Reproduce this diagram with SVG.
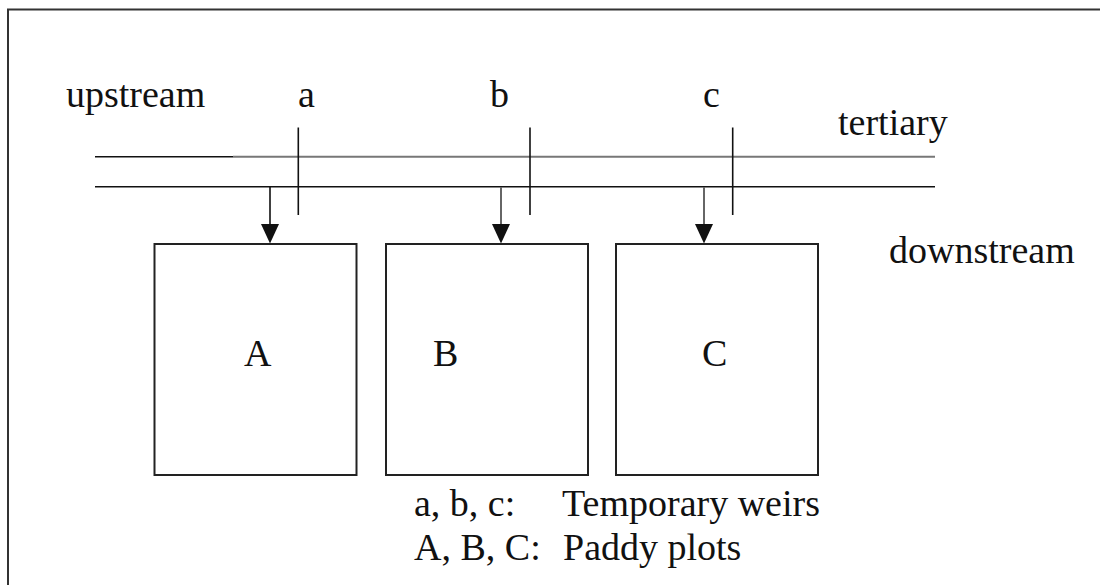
<svg xmlns="http://www.w3.org/2000/svg" width="1100" height="585" viewBox="0 0 1100 585">
<defs>
<style>
text{font-family:"Liberation Serif","Times New Roman",serif;font-size:38px;fill:#111}
.plot{fill:#fff;stroke:#222;stroke-width:2}
.ln{stroke:#111;stroke-width:1.6;fill:none}
.gl{stroke:#777;stroke-width:2;fill:none}
.head{fill:#111}
</style>
</defs>
<rect width="1100" height="585" fill="#fff"/>
<rect x="8" y="9.5" width="1200" height="700" fill="none" stroke="#333" stroke-width="2"/>
<g id="channel">
<line class="ln" x1="95" y1="156.7" x2="233" y2="156.7"/>
<line class="gl" x1="233" y1="156.7" x2="935" y2="156.7"/>
<line class="ln" x1="95" y1="186.7" x2="935" y2="186.7"/>
</g>
<g id="weirs">
<line class="ln" x1="298.3" y1="127.5" x2="298.3" y2="215"/>
<line class="ln" x1="530" y1="127.5" x2="530" y2="215"/>
<line class="ln" x1="732.7" y1="127.5" x2="732.7" y2="215"/>
</g>
<g id="connectors">
<path d="M270,187 V224" stroke="#111" stroke-width="1.6"/>
<path class="head" d="M261,224 H279 L270,243.5 Z"/>
<path d="M501,187 V224" stroke="#666" stroke-width="2"/>
<path class="head" d="M492,224 H510 L501,243.5 Z"/>
<path d="M704,187 V224" stroke="#666" stroke-width="2"/>
<path class="head" d="M695,224 H713 L704,243.5 Z"/>
</g>
<g id="plotA">
<rect class="plot" x="154.5" y="244" width="202" height="231"/>
<text x="244" y="366">A</text>
</g>
<g id="plotB">
<rect class="plot" x="386" y="244" width="202" height="231"/>
<text x="433" y="366">B</text>
</g>
<g id="plotC">
<rect class="plot" x="616" y="244" width="202" height="231"/>
<text x="702" y="366">C</text>
</g>
<g id="labels">
<text x="66" y="107">upstream</text>
<text x="298" y="107">a</text>
<text x="490" y="107">b</text>
<text x="703" y="107">c</text>
<text x="838" y="135">tertiary</text>
<text x="889" y="263">downstream</text>
<text x="414" y="516">a, b, c:</text>
<text x="562" y="516">Temporary weirs</text>
<text x="414" y="560">A, B, C:</text>
<text x="563" y="560">Paddy plots</text>
</g>
</svg>
